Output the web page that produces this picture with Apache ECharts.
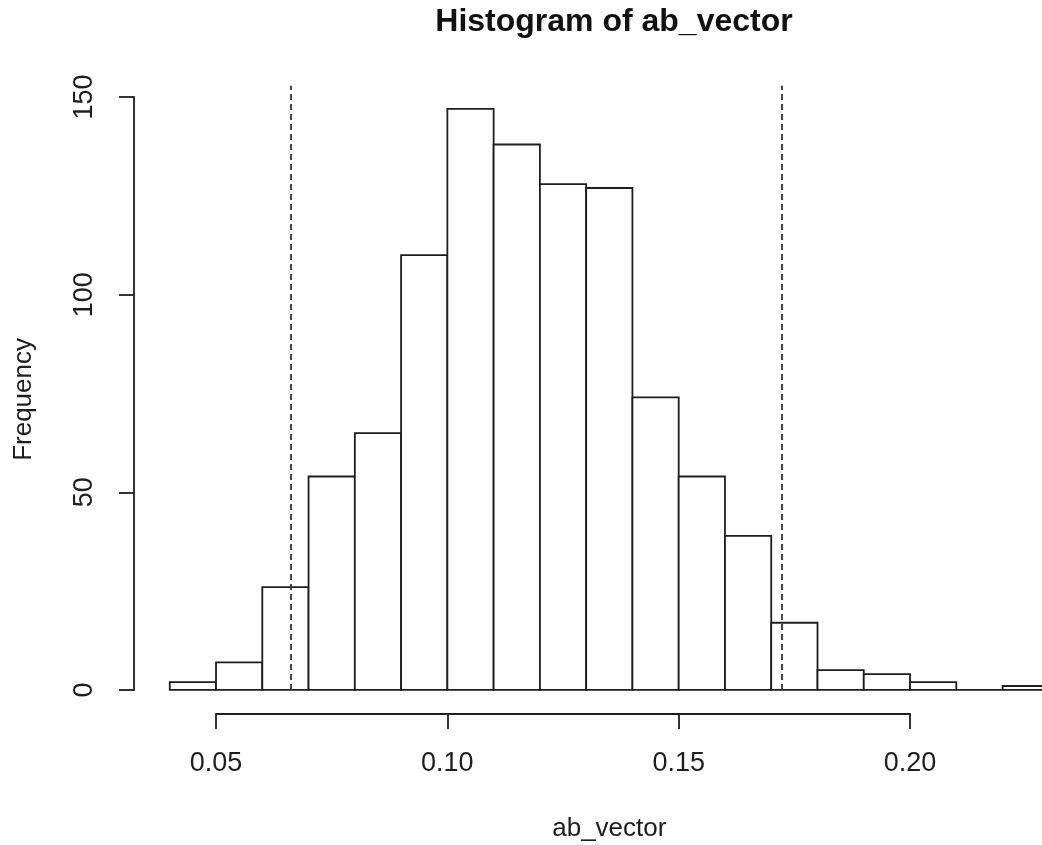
<!DOCTYPE html>
<html>
<head>
<meta charset="utf-8">
<script src="https://cdn.jsdelivr.net/npm/echarts@6/dist/echarts.min.js"></script>
<style>
  html, body { margin: 0; padding: 0; background: #fff; }
  #hist { width: 1042px; height: 845px; }
</style>
</head>
<body>
<div id="hist"></div>
<script>
// bins of width 0.01
var binStart = [0.04, 0.05, 0.06, 0.07, 0.08, 0.09, 0.10, 0.11, 0.12, 0.13, 0.14, 0.15, 0.16, 0.17, 0.18, 0.19, 0.20, 0.21, 0.22];
var binEnd   = [0.05, 0.06, 0.07, 0.08, 0.09, 0.10, 0.11, 0.12, 0.13, 0.14, 0.15, 0.16, 0.17, 0.18, 0.19, 0.20, 0.21, 0.22, 0.23];
var counts   = [2, 7, 26, 54, 65, 110, 147, 138, 128, 127, 74, 54, 39, 17, 5, 4, 2, 0, 1];
// dashed cut-off lines
var cutoffs  = [0.0662, 0.1723];
var yTicks   = [0, 50, 100, 150];
var xTicks   = [0.05, 0.10, 0.15, 0.20];

var font = "'Liberation Sans', Arial, sans-serif";
var ink = '#1e1e1e';

var histData = [];
for (var i = 0; i < counts.length; i++) {
    histData.push([binStart[i], binEnd[i], counts[i]]);
}

var cutLines = [];
for (var i = 0; i < cutoffs.length; i++) {
    cutLines.push([{coord: [cutoffs[i], 0]}, {coord: [cutoffs[i], 152.88]}]);
}

var myChart = echarts.init(document.getElementById('hist'));
var option = {
    animation: false,
    backgroundColor: '#fff',
    title: {
        text: 'Histogram of ab_vector',
        left: 609,
        top: 1,
        textAlign: 'center',
        textStyle: {fontFamily: font, fontSize: 32, fontWeight: 'bold', color: '#111'}
    },
    grid: [
        // plot region (runs past the right edge, like the cropped original)
        {left: 134.6, width: 949.4, top: 85.7, height: 627.5, outerBoundsMode: 'none'},
        // y axis holder
        {left: 134, width: 10, top: 97, height: 593, outerBoundsMode: 'none'},
        // x axis holder
        {left: 216, width: 694, top: 704, height: 10, outerBoundsMode: 'none'}
    ],
    xAxis: [
        {
            gridIndex: 0, type: 'value', min: 0.0324, max: 0.2376,
            name: 'ab_vector', nameLocation: 'middle', nameGap: 103,
            nameTextStyle: {fontFamily: font, fontSize: 26, color: ink},
            axisLine: {show: false}, axisTick: {show: false},
            axisLabel: {show: false}, splitLine: {show: false}
        },
        {
            gridIndex: 1, type: 'value', min: 0, max: 1, show: false
        },
        {
            gridIndex: 2, type: 'value', position: 'bottom',
            min: xTicks[0], max: xTicks[xTicks.length - 1], interval: 0.05,
            axisLine: {lineStyle: {color: ink, width: 1.8}},
            axisTick: {length: 15, lineStyle: {color: ink, width: 1.8}},
            axisLabel: {
                margin: 36, fontFamily: font, fontSize: 27, color: ink,
                formatter: function (v) { return v.toFixed(2); }
            },
            splitLine: {show: false}
        }
    ],
    yAxis: [
        {
            gridIndex: 0, type: 'value', min: -5.88, max: 152.88,
            name: 'Frequency', nameLocation: 'middle', nameGap: 98,
            nameTextStyle: {fontFamily: font, fontSize: 26, color: ink},
            axisLine: {show: false}, axisTick: {show: false},
            axisLabel: {show: false}, splitLine: {show: false}
        },
        {
            gridIndex: 1, type: 'value', position: 'left',
            min: yTicks[0], max: yTicks[yTicks.length - 1], interval: 50,
            axisLine: {show: true, lineStyle: {color: ink, width: 1.8}},
            axisTick: {show: true, length: 15, lineStyle: {color: ink, width: 1.8}},
            axisLabel: {margin: 36, rotate: 90, fontFamily: font, fontSize: 27, color: ink},
            splitLine: {show: false}
        },
        {
            gridIndex: 2, type: 'value', min: 0, max: 1, show: false
        }
    ],
    series: [
        {
            type: 'custom',
            xAxisIndex: 0,
            yAxisIndex: 0,
            clip: false,
            data: histData,
            renderItem: function (params, api) {
                var p0 = api.coord([api.value(0), 0]);
                var p1 = api.coord([api.value(1), api.value(2)]);
                return {
                    type: 'rect',
                    shape: {x: p0[0], y: p1[1], width: p1[0] - p0[0], height: p0[1] - p1[1]},
                    style: {fill: '#fff', stroke: ink, lineWidth: 1.8}
                };
            },
            markLine: {
                silent: true,
                symbol: ['none', 'none'],
                label: {show: false},
                lineStyle: {color: '#333', width: 1.8, type: [6, 4]},
                data: cutLines
            },
            z: 2
        }
    ]
};
myChart.setOption(option);
</script>
</body>
</html>
